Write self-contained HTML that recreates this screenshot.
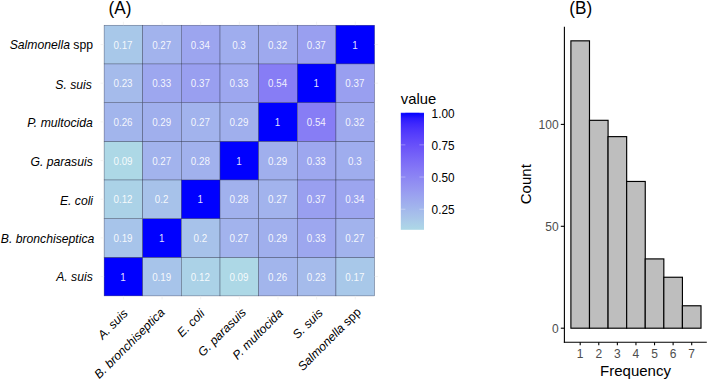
<!DOCTYPE html><html><head><meta charset="utf-8"><title>Figure</title>
<style>html,body{margin:0;padding:0;background:#fff;}body{width:708px;height:381px;overflow:hidden;}svg{display:block;font-family:"Liberation Sans",sans-serif;}</style></head><body>
<svg width="708" height="381" viewBox="0 0 708 381">
<rect x="0" y="0" width="708" height="381" fill="#ffffff"/>
<text transform="translate(108.6,13.7) scale(1,1.05)" font-size="17.2" fill="#000">(A)</text>
<text transform="translate(569.3,13.7) scale(1,1.05)" font-size="17.2" fill="#000">(B)</text>
<g stroke="#2e3450" stroke-opacity="0.85" stroke-width="0.42">
<rect x="104.10" y="257.23" width="38.64" height="38.67" fill="#0000ff"/>
<rect x="142.74" y="257.23" width="38.64" height="38.67" fill="#a7c4ea"/>
<rect x="181.39" y="257.23" width="38.64" height="38.67" fill="#abd2e7"/>
<rect x="220.03" y="257.23" width="38.64" height="38.67" fill="#add8e6"/>
<rect x="258.67" y="257.23" width="38.64" height="38.67" fill="#a2b5ec"/>
<rect x="297.31" y="257.23" width="38.64" height="38.67" fill="#a5bbeb"/>
<rect x="335.96" y="257.23" width="38.64" height="38.67" fill="#a8c8e9"/>
<rect x="104.10" y="218.56" width="38.64" height="38.67" fill="#a7c4ea"/>
<rect x="142.74" y="218.56" width="38.64" height="38.67" fill="#0000ff"/>
<rect x="181.39" y="218.56" width="38.64" height="38.67" fill="#a7c2ea"/>
<rect x="220.03" y="218.56" width="38.64" height="38.67" fill="#a2b3ed"/>
<rect x="258.67" y="218.56" width="38.64" height="38.67" fill="#a0afed"/>
<rect x="297.31" y="218.56" width="38.64" height="38.67" fill="#9da7ef"/>
<rect x="335.96" y="218.56" width="38.64" height="38.67" fill="#a2b3ed"/>
<rect x="104.10" y="179.89" width="38.64" height="38.67" fill="#abd2e7"/>
<rect x="142.74" y="179.89" width="38.64" height="38.67" fill="#a7c2ea"/>
<rect x="181.39" y="179.89" width="38.64" height="38.67" fill="#0000ff"/>
<rect x="220.03" y="179.89" width="38.64" height="38.67" fill="#a1b1ed"/>
<rect x="258.67" y="179.89" width="38.64" height="38.67" fill="#a2b3ed"/>
<rect x="297.31" y="179.89" width="38.64" height="38.67" fill="#999ff0"/>
<rect x="335.96" y="179.89" width="38.64" height="38.67" fill="#9ca5ef"/>
<rect x="104.10" y="141.21" width="38.64" height="38.67" fill="#add8e6"/>
<rect x="142.74" y="141.21" width="38.64" height="38.67" fill="#a2b3ed"/>
<rect x="181.39" y="141.21" width="38.64" height="38.67" fill="#a1b1ed"/>
<rect x="220.03" y="141.21" width="38.64" height="38.67" fill="#0000ff"/>
<rect x="258.67" y="141.21" width="38.64" height="38.67" fill="#a0afed"/>
<rect x="297.31" y="141.21" width="38.64" height="38.67" fill="#9da7ef"/>
<rect x="335.96" y="141.21" width="38.64" height="38.67" fill="#9fadee"/>
<rect x="104.10" y="102.54" width="38.64" height="38.67" fill="#a2b5ec"/>
<rect x="142.74" y="102.54" width="38.64" height="38.67" fill="#a0afed"/>
<rect x="181.39" y="102.54" width="38.64" height="38.67" fill="#a2b3ed"/>
<rect x="220.03" y="102.54" width="38.64" height="38.67" fill="#a0afed"/>
<rect x="258.67" y="102.54" width="38.64" height="38.67" fill="#0000ff"/>
<rect x="297.31" y="102.54" width="38.64" height="38.67" fill="#877df5"/>
<rect x="335.96" y="102.54" width="38.64" height="38.67" fill="#9ea9ee"/>
<rect x="104.10" y="63.87" width="38.64" height="38.67" fill="#a5bbeb"/>
<rect x="142.74" y="63.87" width="38.64" height="38.67" fill="#9da7ef"/>
<rect x="181.39" y="63.87" width="38.64" height="38.67" fill="#999ff0"/>
<rect x="220.03" y="63.87" width="38.64" height="38.67" fill="#9da7ef"/>
<rect x="258.67" y="63.87" width="38.64" height="38.67" fill="#877df5"/>
<rect x="297.31" y="63.87" width="38.64" height="38.67" fill="#0000ff"/>
<rect x="335.96" y="63.87" width="38.64" height="38.67" fill="#999ff0"/>
<rect x="104.10" y="25.20" width="38.64" height="38.67" fill="#a8c8e9"/>
<rect x="142.74" y="25.20" width="38.64" height="38.67" fill="#a2b3ed"/>
<rect x="181.39" y="25.20" width="38.64" height="38.67" fill="#9ca5ef"/>
<rect x="220.03" y="25.20" width="38.64" height="38.67" fill="#9fadee"/>
<rect x="258.67" y="25.20" width="38.64" height="38.67" fill="#9ea9ee"/>
<rect x="297.31" y="25.20" width="38.64" height="38.67" fill="#999ff0"/>
<rect x="335.96" y="25.20" width="38.64" height="38.67" fill="#0000ff"/>
</g>
<g font-size="9.8" fill="#ffffff" fill-opacity="0.9" text-anchor="middle">
<text transform="translate(123.02,280.66) scale(1,1.09)">1</text>
<text transform="translate(161.66,280.66) scale(1,1.09)">0.19</text>
<text transform="translate(200.31,280.66) scale(1,1.09)">0.12</text>
<text transform="translate(238.95,280.66) scale(1,1.09)">0.09</text>
<text transform="translate(277.59,280.66) scale(1,1.09)">0.26</text>
<text transform="translate(316.24,280.66) scale(1,1.09)">0.23</text>
<text transform="translate(354.88,280.66) scale(1,1.09)">0.17</text>
<text transform="translate(123.02,241.99) scale(1,1.09)">0.19</text>
<text transform="translate(161.66,241.99) scale(1,1.09)">1</text>
<text transform="translate(200.31,241.99) scale(1,1.09)">0.2</text>
<text transform="translate(238.95,241.99) scale(1,1.09)">0.27</text>
<text transform="translate(277.59,241.99) scale(1,1.09)">0.29</text>
<text transform="translate(316.24,241.99) scale(1,1.09)">0.33</text>
<text transform="translate(354.88,241.99) scale(1,1.09)">0.27</text>
<text transform="translate(123.02,203.32) scale(1,1.09)">0.12</text>
<text transform="translate(161.66,203.32) scale(1,1.09)">0.2</text>
<text transform="translate(200.31,203.32) scale(1,1.09)">1</text>
<text transform="translate(238.95,203.32) scale(1,1.09)">0.28</text>
<text transform="translate(277.59,203.32) scale(1,1.09)">0.27</text>
<text transform="translate(316.24,203.32) scale(1,1.09)">0.37</text>
<text transform="translate(354.88,203.32) scale(1,1.09)">0.34</text>
<text transform="translate(123.02,164.65) scale(1,1.09)">0.09</text>
<text transform="translate(161.66,164.65) scale(1,1.09)">0.27</text>
<text transform="translate(200.31,164.65) scale(1,1.09)">0.28</text>
<text transform="translate(238.95,164.65) scale(1,1.09)">1</text>
<text transform="translate(277.59,164.65) scale(1,1.09)">0.29</text>
<text transform="translate(316.24,164.65) scale(1,1.09)">0.33</text>
<text transform="translate(354.88,164.65) scale(1,1.09)">0.3</text>
<text transform="translate(123.02,125.98) scale(1,1.09)">0.26</text>
<text transform="translate(161.66,125.98) scale(1,1.09)">0.29</text>
<text transform="translate(200.31,125.98) scale(1,1.09)">0.27</text>
<text transform="translate(238.95,125.98) scale(1,1.09)">0.29</text>
<text transform="translate(277.59,125.98) scale(1,1.09)">1</text>
<text transform="translate(316.24,125.98) scale(1,1.09)">0.54</text>
<text transform="translate(354.88,125.98) scale(1,1.09)">0.32</text>
<text transform="translate(123.02,87.31) scale(1,1.09)">0.23</text>
<text transform="translate(161.66,87.31) scale(1,1.09)">0.33</text>
<text transform="translate(200.31,87.31) scale(1,1.09)">0.37</text>
<text transform="translate(238.95,87.31) scale(1,1.09)">0.33</text>
<text transform="translate(277.59,87.31) scale(1,1.09)">0.54</text>
<text transform="translate(316.24,87.31) scale(1,1.09)">1</text>
<text transform="translate(354.88,87.31) scale(1,1.09)">0.37</text>
<text transform="translate(123.02,48.64) scale(1,1.09)">0.17</text>
<text transform="translate(161.66,48.64) scale(1,1.09)">0.27</text>
<text transform="translate(200.31,48.64) scale(1,1.09)">0.34</text>
<text transform="translate(238.95,48.64) scale(1,1.09)">0.3</text>
<text transform="translate(277.59,48.64) scale(1,1.09)">0.32</text>
<text transform="translate(316.24,48.64) scale(1,1.09)">0.37</text>
<text transform="translate(354.88,48.64) scale(1,1.09)">1</text>
</g>
<g stroke="#ededed" stroke-width="0.7">
<line x1="123.42" y1="295.90" x2="123.42" y2="299.40"/>
<line x1="123.42" y1="25.20" x2="123.42" y2="21.70"/>
<line x1="100.60" y1="44.54" x2="104.10" y2="44.54"/>
<line x1="374.60" y1="44.54" x2="378.10" y2="44.54"/>
<line x1="162.06" y1="295.90" x2="162.06" y2="299.40"/>
<line x1="162.06" y1="25.20" x2="162.06" y2="21.70"/>
<line x1="100.60" y1="83.21" x2="104.10" y2="83.21"/>
<line x1="374.60" y1="83.21" x2="378.10" y2="83.21"/>
<line x1="200.71" y1="295.90" x2="200.71" y2="299.40"/>
<line x1="200.71" y1="25.20" x2="200.71" y2="21.70"/>
<line x1="100.60" y1="121.88" x2="104.10" y2="121.88"/>
<line x1="374.60" y1="121.88" x2="378.10" y2="121.88"/>
<line x1="239.35" y1="295.90" x2="239.35" y2="299.40"/>
<line x1="239.35" y1="25.20" x2="239.35" y2="21.70"/>
<line x1="100.60" y1="160.55" x2="104.10" y2="160.55"/>
<line x1="374.60" y1="160.55" x2="378.10" y2="160.55"/>
<line x1="277.99" y1="295.90" x2="277.99" y2="299.40"/>
<line x1="277.99" y1="25.20" x2="277.99" y2="21.70"/>
<line x1="100.60" y1="199.22" x2="104.10" y2="199.22"/>
<line x1="374.60" y1="199.22" x2="378.10" y2="199.22"/>
<line x1="316.64" y1="295.90" x2="316.64" y2="299.40"/>
<line x1="316.64" y1="25.20" x2="316.64" y2="21.70"/>
<line x1="100.60" y1="237.89" x2="104.10" y2="237.89"/>
<line x1="374.60" y1="237.89" x2="378.10" y2="237.89"/>
<line x1="355.28" y1="295.90" x2="355.28" y2="299.40"/>
<line x1="355.28" y1="25.20" x2="355.28" y2="21.70"/>
<line x1="100.60" y1="276.56" x2="104.10" y2="276.56"/>
<line x1="374.60" y1="276.56" x2="378.10" y2="276.56"/>
</g>
<g font-size="12.2" fill="#000" text-anchor="end" font-style="italic">
<text x="92.80" y="281.16">A. suis</text>
<text x="94.30" y="242.99">B. bronchiseptica</text>
<text x="93.10" y="205.02">E. coli</text>
<text x="92.80" y="165.65">G. parasuis</text>
<text x="92.80" y="126.98">P. multocida</text>
<text x="91.90" y="88.71">S. suis</text>
<text x="93.00" y="48.74">Salmonella<tspan font-style="normal"> spp</tspan></text>
</g>
<g font-size="12.2" fill="#000" text-anchor="end" font-style="italic">
<text transform="translate(121.82,307.40) rotate(-45)" x="0" y="9.5">A. suis</text>
<text transform="translate(158.76,306.40) rotate(-45)" x="0" y="9.5">B. bronchiseptica</text>
<text transform="translate(198.71,307.60) rotate(-45)" x="0" y="9.5">E. coli</text>
<text transform="translate(240.05,306.40) rotate(-45)" x="0" y="9.5">G. parasuis</text>
<text transform="translate(276.99,307.10) rotate(-45)" x="0" y="9.5">P. multocida</text>
<text transform="translate(316.74,306.90) rotate(-45)" x="0" y="9.5">S. suis</text>
<text transform="translate(354.98,305.90) rotate(-45)" x="0" y="9.5">Salmonella<tspan font-style="normal"> spp</tspan></text>
</g>
<text x="400.8" y="104" font-size="14.8" fill="#000">value</text>
<defs><linearGradient id="lg" x1="0" y1="1" x2="0" y2="0">
<stop offset="0.000" stop-color="#add8e6"/>
<stop offset="0.050" stop-color="#abcfe8"/>
<stop offset="0.100" stop-color="#a8c5e9"/>
<stop offset="0.150" stop-color="#a5bceb"/>
<stop offset="0.200" stop-color="#a1b3ed"/>
<stop offset="0.250" stop-color="#9eaaee"/>
<stop offset="0.300" stop-color="#9aa1f0"/>
<stop offset="0.350" stop-color="#9697f1"/>
<stop offset="0.400" stop-color="#918ef2"/>
<stop offset="0.450" stop-color="#8c85f4"/>
<stop offset="0.500" stop-color="#877cf5"/>
<stop offset="0.550" stop-color="#8172f6"/>
<stop offset="0.600" stop-color="#7a69f7"/>
<stop offset="0.650" stop-color="#735ff8"/>
<stop offset="0.700" stop-color="#6c55f9"/>
<stop offset="0.750" stop-color="#634bfa"/>
<stop offset="0.800" stop-color="#5941fb"/>
<stop offset="0.850" stop-color="#4e36fc"/>
<stop offset="0.900" stop-color="#4029fd"/>
<stop offset="0.950" stop-color="#2c1afe"/>
<stop offset="1.000" stop-color="#0000ff"/>
</linearGradient></defs>
<rect x="400.8" y="112.70" width="23.2" height="117.10" fill="url(#lg)"/>
<g stroke="#ffffff" stroke-opacity="0.55" stroke-width="0.6">
<line x1="400.8" x2="405.4" y1="112.70" y2="112.70"/>
<line x1="419.4" x2="424" y1="112.70" y2="112.70"/>
<line x1="400.8" x2="405.4" y1="144.87" y2="144.87"/>
<line x1="419.4" x2="424" y1="144.87" y2="144.87"/>
<line x1="400.8" x2="405.4" y1="177.04" y2="177.04"/>
<line x1="419.4" x2="424" y1="177.04" y2="177.04"/>
<line x1="400.8" x2="405.4" y1="209.21" y2="209.21"/>
<line x1="419.4" x2="424" y1="209.21" y2="209.21"/>
</g>
<g font-size="11.8" fill="#000">
<text transform="translate(431.6,117.90) scale(1,1.08)">1.00</text>
<text transform="translate(431.6,149.77) scale(1,1.08)">0.75</text>
<text transform="translate(431.6,181.94) scale(1,1.08)">0.50</text>
<text transform="translate(431.6,214.11) scale(1,1.08)">0.25</text>
</g>
<g fill="#bebebe" stroke="#000" stroke-width="1.15">
<rect x="570.90" y="40.84" width="18.59" height="287.36"/>
<rect x="589.49" y="120.32" width="18.59" height="207.88"/>
<rect x="608.07" y="136.63" width="18.59" height="191.57"/>
<rect x="626.66" y="181.46" width="18.59" height="146.74"/>
<rect x="645.24" y="258.91" width="18.59" height="69.29"/>
<rect x="663.83" y="277.25" width="18.59" height="50.95"/>
<rect x="682.41" y="305.78" width="18.59" height="22.42"/>
</g>
<g stroke="#000" stroke-width="1.1" fill="none">
<line x1="564.40" y1="26.70" x2="564.40" y2="342.85"/>
<line x1="563.85" y1="342.30" x2="706.8" y2="342.30"/>
<line x1="580.19" y1="342.30" x2="580.19" y2="345.30"/>
<line x1="598.78" y1="342.30" x2="598.78" y2="345.30"/>
<line x1="617.36" y1="342.30" x2="617.36" y2="345.30"/>
<line x1="635.95" y1="342.30" x2="635.95" y2="345.30"/>
<line x1="654.54" y1="342.30" x2="654.54" y2="345.30"/>
<line x1="673.12" y1="342.30" x2="673.12" y2="345.30"/>
<line x1="691.71" y1="342.30" x2="691.71" y2="345.30"/>
<line x1="560.80" y1="328.20" x2="564.40" y2="328.20"/>
<line x1="560.80" y1="226.30" x2="564.40" y2="226.30"/>
<line x1="560.80" y1="124.40" x2="564.40" y2="124.40"/>
</g>
<g font-size="12" fill="#4d4d4d" text-anchor="middle">
<text x="580.19" y="358.2">1</text>
<text x="598.78" y="358.2">2</text>
<text x="617.36" y="358.2">3</text>
<text x="635.95" y="358.2">4</text>
<text x="654.54" y="358.2">5</text>
<text x="673.12" y="358.2">6</text>
<text x="691.71" y="358.2">7</text>
</g>
<g font-size="12" fill="#4d4d4d" text-anchor="end">
<text x="558.6" y="332.50">0</text>
<text x="558.6" y="230.60">50</text>
<text x="558.6" y="128.70">100</text>
</g>
<text x="635.5" y="375.7" font-size="15" fill="#000" text-anchor="middle">Frequency</text>
<text transform="translate(531.3,184.2) rotate(-90)" font-size="15" fill="#000" text-anchor="middle">Count</text>
</svg></body></html>
